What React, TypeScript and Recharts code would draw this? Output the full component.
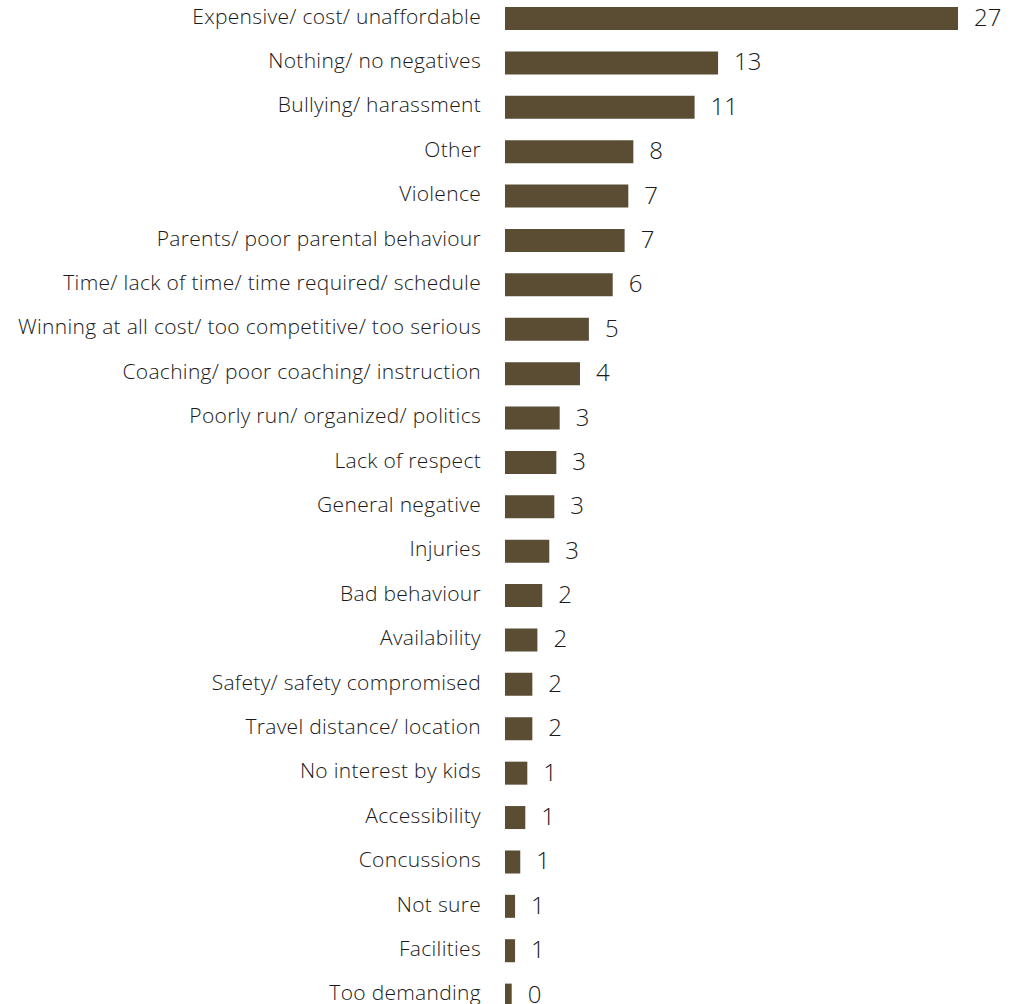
import React from "react";
import { BarChart, Bar, XAxis, YAxis, LabelList } from "recharts";

const categories = [
  "Expensive/ cost/ unaffordable",
  "Nothing/ no negatives",
  "Bullying/ harassment",
  "Other",
  "Violence",
  "Parents/ poor parental behaviour",
  "Time/ lack of time/ time required/ schedule",
  "Winning at all cost/ too competitive/ too serious",
  "Coaching/ poor coaching/ instruction",
  "Poorly run/ organized/ politics",
  "Lack of respect",
  "General negative",
  "Injuries",
  "Bad behaviour",
  "Availability",
  "Safety/ safety compromised",
  "Travel distance/ location",
  "No interest by kids",
  "Accessibility",
  "Concussions",
  "Not sure",
  "Facilities",
  "Too demanding",
];

// Underlying (unrounded) percentages
const values = [
  27, 12.7, 11.3, 7.65, 7.35, 7.13, 6.42, 5.0, 4.47, 3.26, 3.06, 2.94, 2.64,
  2.22, 1.93, 1.63, 1.63, 1.33, 1.21, 0.91, 0.6, 0.6, 0.4,
];

// Displayed (rounded) labels
const valueLabels = [
  "27", "13", "11", "8", "7", "7", "6", "5", "4", "3", "3", "3", "3",
  "2", "2", "2", "2", "1", "1", "1", "1", "1", "0",
];

const data = categories.map((name, i) => ({
  name,
  value: values[i],
  label: valueLabels[i],
}));

const FONT = "'Open Sans', 'Noto Sans', sans-serif";

const CategoryTick = (props: any) => {
  const { x, y, payload } = props;
  return (
    <text
      x={x}
      y={y}
      dy={5.5}
      textAnchor="end"
      fill="#1a1a1a"
      fontSize={21}
      fontFamily={FONT}
      fontWeight={300}
      letterSpacing={0.3}
    >
      {payload.value}
    </text>
  );
};

const ValueLabel = (props: any) => {
  const { x, y, width, height, value } = props;
  return (
    <text
      x={x + width + 16}
      y={y + height / 2}
      dy={7.5}
      textAnchor="start"
      fill="#1a1a1a"
      fontSize={24}
      fontFamily={FONT}
      fontWeight={300}
    >
      {value}
    </text>
  );
};

export default function App() {
  return (
    <div style={{ position: "absolute", left: 0, top: -4, background: "#fff" }}>
      <BarChart
        width={1022}
        height={1021}
        data={data}
        layout="vertical"
        margin={{ top: 0, right: 64, bottom: 0, left: 0 }}
      >
        <XAxis type="number" domain={[0, 27]} hide />
        <YAxis
          type="category"
          dataKey="name"
          width={505}
          axisLine={false}
          tickLine={false}
          tickSize={0}
          tickMargin={24}
          interval={0}
          tick={<CategoryTick />}
        />
        <Bar dataKey="value" fill="#5B4C34" barSize={23} isAnimationActive={false}>
          <LabelList dataKey="label" content={<ValueLabel />} />
        </Bar>
      </BarChart>
    </div>
  );
}
